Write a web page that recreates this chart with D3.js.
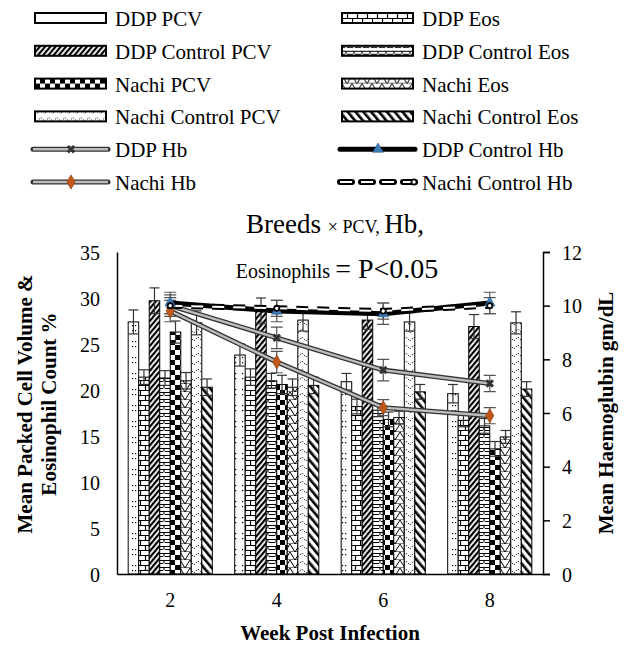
<!DOCTYPE html>
<html>
<head>
<meta charset="utf-8">
<script src="https://cdn.jsdelivr.net/npm/d3@7"></script>
</head>
<body style="margin:0; background:#fff">
<script>
// data
const weeks = ["2", "4", "6", "8"];
const barNames = ["DDP PCV", "DDP Eos", "DDP Control PCV", "DDP Control Eos",
                  "Nachi PCV", "Nachi Eos", "Nachi Control PCV", "Nachi Control Eos"];
const ddpPcv = [27.4, 23.8, 20.9, 19.6];
const ddpEos = [21.4, 21.4, 18.2, 16.7];
const ddpCtrlPcv = [29.7, 28.6, 27.6, 26.9];
const ddpCtrlEos = [21.3, 21.0, 17.8, 16.1];
const nachiPcv = [26.3, 20.6, 16.8, 13.6];
const nachiEos = [21.0, 20.3, 17.0, 14.9];
const nachiCtrlPcv = [27.3, 27.6, 27.4, 27.3];
const nachiCtrlEos = [20.3, 20.5, 19.8, 20.1];
const barErr = [
  [1.3, 1.2, 0.9, 1.0],
  [0.8, 0.9, 0.8, 0.7],
  [1.4, 1.4, 1.0, 1.3],
  [0.8, 0.8, 0.7, 0.8],
  [1.2, 1.0, 0.8, 0.8],
  [0.9, 0.9, 0.7, 0.7],
  [1.3, 1.2, 1.0, 1.2],
  [0.9, 0.9, 0.8, 0.8]
];
const barValues = [ddpPcv, ddpEos, ddpCtrlPcv, ddpCtrlEos, nachiPcv, nachiEos, nachiCtrlPcv, nachiCtrlEos];

const hbNames = ["DDP Hb", "DDP Control Hb", "Nachi Hb", "Nachi Control Hb"];
const ddpHb = [10.0, 8.8, 7.6, 7.1];
const ddpCtrlHb = [10.1, 9.8, 9.7, 10.1];
const nachiHb = [9.8, 7.9, 6.2, 5.9];
const nachiCtrlHb = [10.0, 9.9, 9.8, 10.0];
const hbErr = [[0.4, 0.4, 0.4, 0.3], [0.4, 0.4, 0.4, 0.4], [0.4, 0.4, 0.3, 0.3], [0.3, 0.3, 0.3, 0.3]];
const hbValues = [ddpHb, ddpCtrlHb, nachiHb, nachiCtrlHb];

const leftTicks = [0, 5, 10, 15, 20, 25, 30, 35];
const rightTicks = [0, 2, 4, 6, 8, 10, 12];

// canvas
const canvWidth = 627, canvHeight = 647;
const svg = d3.select("body").append("svg")
    .attr("width", canvWidth)
    .attr("height", canvHeight);

const plot = { left: 117, right: 543, top: 252, bottom: 574 };

// fill patterns for the bars
const defs = svg.append("defs");
function pattern(id, w, h, draw, rot) {
  const p = defs.append("pattern")
      .attr("id", id)
      .attr("patternUnits", "userSpaceOnUse")
      .attr("width", w).attr("height", h);
  if (rot) p.attr("patternTransform", "rotate(" + rot + ")");
  p.append("rect").attr("width", w).attr("height", h).attr("fill", "#fff");
  draw(p);
}
// DDP PCV: white with dotted rows
pattern("p0", 10, 16, p => {
  [[2, 5], [5, 5], [2, 10], [5, 10]].forEach(d =>
    p.append("rect").attr("x", d[0]).attr("y", d[1]).attr("width", 1.2).attr("height", 1.2).attr("fill", "#000"));
});
// DDP Eos: brick
pattern("p1", 10, 10, p => {
  p.append("path").attr("d", "M0,0.5H10M0,5.5H10M0.5,0V5M5.5,5V10")
      .attr("stroke", "#000").attr("stroke-width", 1.2).attr("fill", "none");
});
// DDP Control PCV: dark with white slashes
pattern("p2", 4, 4, p => {
  p.append("rect").attr("width", 2.2).attr("height", 4).attr("fill", "#000");
}, 40);
// DDP Control Eos: dashed brick
pattern("p3", 8, 7, p => {
  p.append("path").attr("d", "M0,0.5H8M0,3.5H3M5,3.5H8M4,0V3.5")
      .attr("stroke", "#000").attr("stroke-width", 1.1).attr("fill", "none");
});
// Nachi PCV: checker
pattern("p4", 10, 10, p => {
  p.append("rect").attr("width", 5).attr("height", 5).attr("fill", "#000");
  p.append("rect").attr("x", 5).attr("y", 5).attr("width", 5).attr("height", 5).attr("fill", "#000");
});
// Nachi Eos: zigzag
pattern("p5", 10, 8, p => {
  p.append("path").attr("d", "M0,0L5,8L10,0M0,8H10")
      .attr("stroke", "#000").attr("stroke-width", 1).attr("fill", "none");
});
// Nachi Control PCV: wavy dots
pattern("p6", 8, 8, p => {
  p.append("path").attr("d", "M0,3Q2,6 4,3T8,3")
      .attr("stroke", "#000").attr("stroke-width", 0.9).attr("fill", "none").attr("stroke-dasharray", "1.5,1");
});
// Nachi Control Eos: black backslash stripes
pattern("p7", 6, 6, p => {
  p.append("rect").attr("width", 2.6).attr("height", 6).attr("fill", "#000");
}, -40);

const fills = barNames.map((d, i) => "url(#p" + i + ")");

// scales
const xScale = d3.scaleBand()
    .domain(weeks)
    .range([plot.left, plot.right])
    .paddingInner(0.21)
    .paddingOuter(0.105);
const xInner = d3.scaleBand()
    .domain(barNames)
    .range([0, xScale.bandwidth()]);
const yLeft = d3.scaleLinear().domain([0, 35]).range([plot.bottom, plot.top]);
const yRight = d3.scaleLinear().domain([0, 12]).range([plot.bottom, plot.top]);

// bars
const bars = [];
barNames.forEach((name, s) => weeks.forEach((w, i) =>
  bars.push({ name: name, s: s, week: w, v: barValues[s][i], e: barErr[s][i] })));

const barG = svg.append("g");
barG.selectAll("rect")
    .data(bars)
    .enter()
    .append("rect")
    .attr("x", d => xScale(d.week) + xInner(d.name))
    .attr("y", d => yLeft(d.v))
    .attr("width", xInner.bandwidth())
    .attr("height", d => yLeft(0) - yLeft(d.v))
    .attr("fill", d => fills[d.s])
    .attr("stroke", "#000")
    .attr("stroke-width", 1);

// bar error bars
const errG = svg.append("g").attr("stroke", "#333").attr("stroke-width", 1.2);
bars.forEach(d => {
  const cx = xScale(d.week) + xInner(d.name) + xInner.bandwidth() / 2;
  const y0 = yLeft(d.v - d.e), y1 = yLeft(d.v + d.e);
  errG.append("line").attr("x1", cx).attr("x2", cx).attr("y1", y0).attr("y2", y1);
  errG.append("line").attr("x1", cx - 5).attr("x2", cx + 5).attr("y1", y0).attr("y2", y0);
  errG.append("line").attr("x1", cx - 5).attr("x2", cx + 5).attr("y1", y1).attr("y2", y1);
});

// Hb lines
const hbStyles = [
  { outer: "#333", ow: 5, inner: "#bdbdbd", iw: 2.4, dash: null, marker: "x" },
  { outer: "#000", ow: 5, inner: null, iw: 0, dash: null, marker: "tri" },
  { outer: "#333", ow: 5, inner: "#bdbdbd", iw: 2.4, dash: null, marker: "dia" },
  { outer: "#000", ow: 6, inner: "#fff", iw: 2, dash: "12,9", marker: "dot" }
];
const line = d3.line()
    .x((d, i) => xScale(weeks[i]) + xScale.bandwidth() / 2)
    .y(d => yRight(d));
const hbG = svg.append("g");

// Hb error bars
hbValues.forEach((vals, s) => vals.forEach((v, i) => {
  const cx = xScale(weeks[i]) + xScale.bandwidth() / 2;
  const y0 = yRight(v - hbErr[s][i]), y1 = yRight(v + hbErr[s][i]);
  hbG.append("path")
      .attr("d", "M" + cx + "," + y0 + "V" + y1 + "M" + (cx - 6) + "," + y0 + "H" + (cx + 6) + "M" + (cx - 6) + "," + y1 + "H" + (cx + 6))
      .attr("stroke", "#555").attr("stroke-width", 1.2).attr("fill", "none");
}));

function drawMarker(g, type, x, y) {
  if (type === "x") {
    g.append("path").attr("d", d3.symbol(d3.symbolCross, 45)())
        .attr("transform", "translate(" + x + "," + y + ") rotate(45)")
        .attr("fill", "#333");
  } else if (type === "tri") {
    g.append("path").attr("d", d3.symbol(d3.symbolTriangle, 50)())
        .attr("transform", "translate(" + x + "," + y + ")")
        .attr("fill", "#3d7ab8").attr("stroke", "#1f4e79").attr("stroke-width", 0.5);
  } else if (type === "dia") {
    g.append("path").attr("d", d3.symbol(d3.symbolDiamond, 60)())
        .attr("transform", "translate(" + x + "," + y + ")")
        .attr("fill", "#c0561a").attr("stroke", "#7a3410").attr("stroke-width", 0.5);
  } else {
    g.append("circle").attr("cx", x).attr("cy", y).attr("r", 2.6)
        .attr("fill", "#fff").attr("stroke", "#000").attr("stroke-width", 1.8);
  }
}

[0, 2, 1, 3].forEach(s => {
  const st = hbStyles[s];
  hbG.append("path").attr("d", line(hbValues[s]))
      .attr("fill", "none").attr("stroke", st.outer).attr("stroke-width", st.ow)
      .attr("stroke-dasharray", st.dash);
  if (st.inner) {
    hbG.append("path").attr("d", line(hbValues[s]))
        .attr("fill", "none").attr("stroke", st.inner).attr("stroke-width", st.iw)
        .attr("stroke-dasharray", st.dash);
  }
});
[0, 2, 1, 3].forEach(s => hbValues[s].forEach((v, i) =>
  drawMarker(hbG, hbStyles[s].marker, xScale(weeks[i]) + xScale.bandwidth() / 2, yRight(v))));

// axes
svg.append("g")
    .attr("transform", "translate(" + plot.left + ",0)")
    .call(d3.axisLeft(yLeft).tickValues(leftTicks).tickSize(0).tickPadding(17))
    .call(g => g.select(".domain").attr("stroke", "#000").attr("stroke-width", 1.5))
    .call(g => g.selectAll("text").attr("dy", "0.35em"));

svg.append("g")
    .attr("transform", "translate(" + plot.right + ",0)")
    .call(d3.axisRight(yRight).tickValues(rightTicks).tickSize(7).tickSizeOuter(7).tickPadding(12))
    .call(g => g.select(".domain").attr("stroke", "#000").attr("stroke-width", 1.5))
    .call(g => g.selectAll("line").attr("stroke", "#000").attr("stroke-width", 1.5))
    .call(g => g.selectAll("text").attr("dy", "0.35em"));

svg.append("g")
    .attr("transform", "translate(0," + plot.bottom + ")")
    .call(d3.axisBottom(xScale).tickSize(0).tickPadding(19))
    .call(g => g.select(".domain").attr("stroke", "#000").attr("stroke-width", 1.5));

svg.selectAll(".tick text").attr("font-size", 20);

// axis titles
svg.append("text")
    .attr("x", 330).attr("y", 640)
    .attr("text-anchor", "middle")
    .attr("font-size", 21).attr("font-weight", "bold")
    .text("Week Post Infection");

svg.append("text")
    .attr("transform", "translate(32,404) rotate(-90)")
    .attr("text-anchor", "middle")
    .attr("font-size", 21).attr("font-weight", "bold")
    .text("Mean Packed Cell Volume &");
svg.append("text")
    .attr("transform", "translate(56,404) rotate(-90)")
    .attr("text-anchor", "middle")
    .attr("font-size", 21).attr("font-weight", "bold")
    .text("Eosinophil Count %");

svg.append("text")
    .attr("transform", "translate(613,413) rotate(-90)")
    .attr("text-anchor", "middle")
    .attr("font-size", 21).attr("font-weight", "bold")
    .text("Mean Haemoglubin gm/dL");

// chart title
const t1 = svg.append("text").attr("x", 335).attr("y", 233).attr("text-anchor", "middle");
t1.append("tspan").attr("font-size", 27).text("Breeds ");
t1.append("tspan").attr("font-size", 18).text("× PCV, ");
t1.append("tspan").attr("font-size", 27).text("Hb,");
const t2 = svg.append("text").attr("x", 337).attr("y", 278).attr("text-anchor", "middle");
t2.append("tspan").attr("font-size", 20).text("Eosinophils ");
t2.append("tspan").attr("font-size", 28).text("= P<0.05");

// legend
const legendItems = [
  { name: "DDP PCV", kind: "bar", s: 0 }, { name: "DDP Eos", kind: "bar", s: 1 },
  { name: "DDP Control PCV", kind: "bar", s: 2 }, { name: "DDP Control Eos", kind: "bar", s: 3 },
  { name: "Nachi PCV", kind: "bar", s: 4 }, { name: "Nachi Eos", kind: "bar", s: 5 },
  { name: "Nachi Control PCV", kind: "bar", s: 6 }, { name: "Nachi Control Eos", kind: "bar", s: 7 },
  { name: "DDP Hb", kind: "line", s: 0 }, { name: "DDP Control Hb", kind: "line", s: 1 },
  { name: "Nachi Hb", kind: "line", s: 2 }, { name: "Nachi Control Hb", kind: "line", s: 3 }
];
const colX = [35, 342];
const legend = svg.append("g");
const entry = legend.selectAll("g")
    .data(legendItems)
    .enter()
    .append("g")
    .attr("transform", (d, i) => "translate(" + colX[i % 2] + "," + (18 + Math.floor(i / 2) * 32.8) + ")");

entry.each(function (d) {
  const g = d3.select(this);
  if (d.kind === "bar") {
    g.append("rect").attr("x", 0).attr("y", -5).attr("width", 71).attr("height", 10)
        .attr("fill", fills[d.s]).attr("stroke", "#000").attr("stroke-width", 2);
  } else {
    const st = hbStyles[d.s];
    g.append("line").attr("x1", -2).attr("x2", 73).attr("y1", 0).attr("y2", 0)
        .attr("stroke", st.outer).attr("stroke-width", st.ow).attr("stroke-linecap", "round")
        .attr("stroke-dasharray", st.dash);
    if (st.inner) {
      g.append("line").attr("x1", -2).attr("x2", 73).attr("y1", 0).attr("y2", 0)
          .attr("stroke", st.inner).attr("stroke-width", st.iw).attr("stroke-dasharray", st.dash);
    }
    drawMarker(g, st.marker, d.s === 3 ? 72 : 36, 0);
  }
  g.append("text").attr("x", 80).attr("y", 8)
      .attr("font-size", 21)
      .text(d.name);
});

// every text in Times-like serif
svg.selectAll("text")
    .style("font-family", "'Liberation Serif'")
    .attr("fill", "#000");
</script>
</body>
</html>
